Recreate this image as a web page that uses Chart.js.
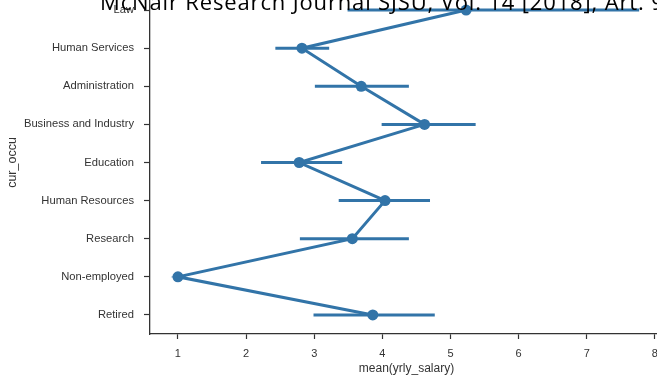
<!DOCTYPE html>
<html>
<head>
<meta charset="utf-8">
<script src="https://cdn.jsdelivr.net/npm/chart.js@4.4.1/dist/chart.umd.min.js"></script>
<style>
  html, body { margin: 0; padding: 0; background: #fff; overflow: hidden; }
  body { width: 657px; height: 375px; position: relative; }
  #wrap { position: absolute; left: 0; top: -18px; width: 690px; height: 397px; }
  #hdr {
    position: absolute; left: 100px; top: -14.5px; white-space: nowrap;
    font-family: "Open Sans", sans-serif; font-size: 22px; letter-spacing: 0.85px;
    color: #000; z-index: 2;
  }
</style>
</head>
<body>
<div id="wrap"><canvas id="chart"></canvas></div>
<div id="hdr">McNair Research Journal SJSU, Vol. 14 [2018], Art. 9</div>
<script>
// categories top to bottom
const occupations = ['Law', 'Human Services', 'Administration', 'Business and Industry',
  'Education', 'Human Resources', 'Research', 'Non-employed', 'Retired'];
// mean yearly salary (coded) per occupation
const salaryMean = [5.23, 2.82, 3.69, 4.62, 2.78, 4.04, 3.56, 1.0, 3.86];
// confidence interval ends
const ciLow  = [3.49, 2.43, 3.01, 3.99, 2.22, 3.36, 2.79, 1.0, 2.99];
const ciHigh = [7.77, 3.22, 4.39, 5.37, 3.41, 4.70, 4.39, 1.0, 4.77];
const xTicks = [1, 2, 3, 4, 5, 6, 7, 8];

const blue = '#3274a8';
const ink = '#333';

// one small line dataset per error bar
const errorSets = occupations.map((occ, i) => ({
  label: 'ci ' + occ,
  data: [{ x: ciLow[i], y: i }, { x: ciHigh[i], y: i }],
  borderColor: blue,
  borderWidth: 3,
  pointRadius: 0,
  borderCapStyle: 'butt'
}));

const ctx = document.getElementById('chart').getContext('2d');
new Chart(ctx, {
  type: 'line',
  data: {
    datasets: [
      ...errorSets,
      {
        label: 'mean(yrly_salary)',
        data: occupations.map((occ, i) => ({ x: salaryMean[i], y: i })),
        borderColor: blue,
        backgroundColor: blue,
        borderWidth: 3,
        pointRadius: 5.5,
        pointBorderWidth: 0,
        tension: 0
      }
    ]
  },
  options: {
    responsive: true,
    maintainAspectRatio: false,
    animation: false,
    layout: { padding: { top: 9, left: 0, right: 27, bottom: 0 } },
    plugins: { legend: { display: false }, tooltip: { enabled: false } },
    scales: {
      x: {
        type: 'linear',
        min: 0.59,
        max: 8.12,
        afterBuildTicks: (s) => { s.ticks = xTicks.map(v => ({ value: v })); },
        afterFit: (s) => { s.height = 45; s.paddingLeft = 0; s.paddingRight = 0; },
        ticks: {
          color: ink,
          padding: 8,
          maxRotation: 0,
          font: { family: 'Liberation Sans', size: 11 }
        },
        grid: { drawOnChartArea: false, drawTicks: true, tickLength: 5, tickColor: ink, tickWidth: 1.2 },
        border: { color: ink, width: 1.3 },
        title: {
          display: true,
          text: 'mean(yrly_salary)',
          color: ink,
          padding: { top: 0, bottom: 3 },
          font: { family: 'Liberation Sans', size: 12 }
        }
      },
      y: {
        type: 'linear',
        reverse: true,
        min: -0.5,
        max: 8.5,
        afterBuildTicks: (s) => { s.ticks = occupations.map((c, i) => ({ value: i })); },
        afterFit: (s) => { s.width = 150; s.paddingTop = 0; s.paddingBottom = 0; },
        ticks: {
          color: ink,
          padding: 10,
          callback: (v) => occupations[v],
          font: { family: 'Liberation Sans', size: 11.2 }
        },
        grid: { drawOnChartArea: false, drawTicks: true, tickLength: 6, tickColor: ink, tickWidth: 1.2 },
        border: { color: ink, width: 1.3 },
        title: {
          display: true,
          text: 'cur_occu',
          color: ink,
          padding: { top: 5, bottom: 0 },
          font: { family: 'Liberation Sans', size: 12.5 }
        }
      }
    }
  }
});
</script>
</body>
</html>
